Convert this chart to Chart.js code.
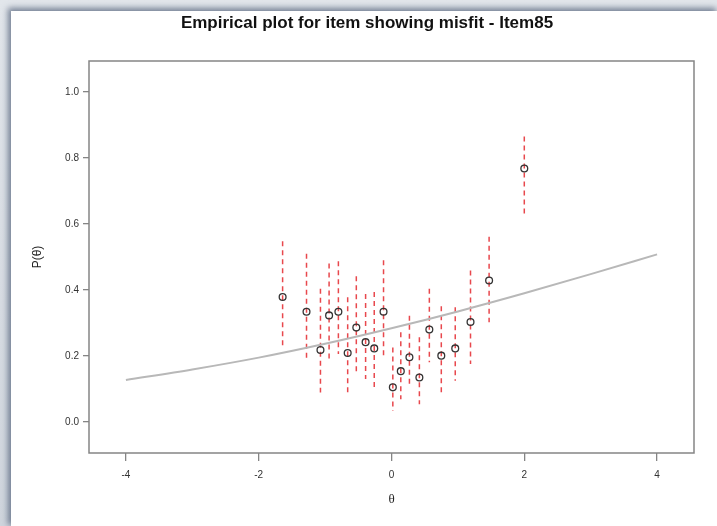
<!DOCTYPE html>
<html>
<head>
<meta charset="utf-8">
<script src="https://cdn.jsdelivr.net/npm/chart.js@4/dist/chart.umd.min.js"></script>
<style>
  html, body { margin: 0; padding: 0; }
  body { width: 717px; height: 526px; overflow: hidden; position: relative; background: linear-gradient(#e2e6eb, #cfd5dd); }
  #frame { position: absolute; left: 11px; top: 11px; width: 706px; height: 515px; background: #fff;
           box-shadow: -2px -2px 6px 1px rgba(80, 95, 120, 0.75); }
</style>
</head>
<body>
<div id="frame"><canvas id="myChart" width="706" height="515"></canvas></div>
<script>
// empirical proportions per ability group, with interval bounds
var theta = [-1.64, -1.28, -1.07, -0.94, -0.80, -0.66, -0.53, -0.39, -0.26, -0.12, 0.02, 0.14, 0.27, 0.42, 0.57, 0.75, 0.96, 1.19, 1.47, 2.00];
var prob  = [0.379, 0.334, 0.218, 0.323, 0.334, 0.209, 0.286, 0.242, 0.223, 0.334, 0.105, 0.154, 0.196, 0.135, 0.280, 0.201, 0.223, 0.303, 0.429, 0.768];
var lower = [0.228, 0.186, 0.089, 0.186, 0.206, 0.084, 0.150, 0.130, 0.099, 0.201, 0.033, 0.069, 0.105, 0.054, 0.181, 0.089, 0.125, 0.176, 0.302, 0.632];
var upper = [0.548, 0.510, 0.404, 0.480, 0.487, 0.378, 0.442, 0.388, 0.394, 0.490, 0.226, 0.272, 0.322, 0.257, 0.404, 0.351, 0.348, 0.459, 0.561, 0.865];

// model curve
var curveTheta = [-4, -3, -2, -1, 0, 1, 2, 3, 4];
var curveP     = [0.127, 0.159, 0.195, 0.237, 0.284, 0.335, 0.390, 0.448, 0.508];

var xTicks = [-4, -2, 0, 2, 4];
var yTicks = [0, 0.2, 0.4, 0.6, 0.8, 1.0];

var errorBars = {
    id: 'errorBars',
    beforeDatasetsDraw: function (chart) {
        var ctx = chart.ctx;
        var xs = chart.scales.x, ys = chart.scales.y;
        ctx.save();
        ctx.strokeStyle = '#e8484d';
        ctx.lineWidth = 1.5;
        ctx.setLineDash([5, 4]);
        for (var i = 0; i < theta.length; i++) {
            var x = xs.getPixelForValue(theta[i]);
            ctx.beginPath();
            ctx.moveTo(x, ys.getPixelForValue(upper[i]));
            ctx.lineTo(x, ys.getPixelForValue(lower[i]));
            ctx.stroke();
        }
        ctx.restore();
    }
};

var plotBox = {
    id: 'plotBox',
    afterDraw: function (chart) {
        var a = chart.chartArea;
        var ctx = chart.ctx;
        ctx.save();
        ctx.strokeStyle = '#858585';
        ctx.lineWidth = 1.5;
        ctx.strokeRect(a.left, a.top, a.right - a.left, a.bottom - a.top);
        ctx.restore();
    }
};

// centre the title on the whole canvas, ignoring the right padding
var titleSpan = {
    id: 'titleSpan',
    afterLayout: function (chart) {
        if (chart.titleBlock) {
            chart.titleBlock.left = 0;
            chart.titleBlock.right = chart.width + 6;
        }
    }
};

var ctx = document.getElementById('myChart');
var myChart = new Chart(ctx, {
    type: 'scatter',
    data: {
        datasets: [{
            type: 'line',
            data: curveTheta.map(function (t, i) { return { x: t, y: curveP[i] }; }),
            borderColor: '#b8b8b8',
            borderWidth: 2,
            pointRadius: 0,
            cubicInterpolationMode: 'monotone',
            fill: false
        }, {
            data: theta.map(function (t, i) { return { x: t, y: prob[i] }; }),
            pointRadius: 3.4,
            pointBackgroundColor: 'rgba(0,0,0,0)',
            pointBorderColor: '#333',
            pointBorderWidth: 1.3
        }]
    },
    options: {
        responsive: false,
        animation: false,
        layout: {
            padding: { left: 0, right: 23, top: 0, bottom: 0 }
        },
        plugins: {
            legend: { display: false },
            tooltip: { enabled: false },
            title: {
                display: true,
                text: 'Empirical plot for item showing misfit - Item85',
                color: '#111',
                font: { family: 'Liberation Sans', size: 17, weight: 'bold' },
                padding: { top: 2, bottom: 27.6 }
            }
        },
        scales: {
            x: {
                type: 'linear',
                min: -4.556,
                max: 4.556,
                afterBuildTicks: function (scale) {
                    scale.ticks = xTicks.map(function (v) { return { value: v }; });
                },
                afterFit: function (scale) { scale.height = 73; },
                border: { display: false },
                grid: { drawOnChartArea: false, color: '#858585', lineWidth: 1.3, tickLength: 8 },
                ticks: {
                    color: '#333',
                    padding: 8,
                    maxRotation: 0,
                    font: { family: 'Liberation Sans', size: 10 }
                },
                title: {
                    display: true,
                    text: 'θ',
                    color: '#222',
                    font: { family: 'Liberation Serif', size: 13 },
                    padding: { bottom: 19 }
                }
            },
            y: {
                min: -0.094,
                max: 1.094,
                afterBuildTicks: function (scale) {
                    scale.ticks = yTicks.map(function (v) { return { value: v }; });
                },
                afterFit: function (scale) { scale.width = 78; },
                border: { display: false },
                grid: { drawOnChartArea: false, color: '#858585', lineWidth: 1.3, tickLength: 6 },
                ticks: {
                    color: '#333',
                    padding: 4,
                    font: { family: 'Liberation Sans', size: 10 },
                    callback: function (v) { return v.toFixed(1); }
                },
                title: {
                    display: true,
                    text: 'P(θ)',
                    color: '#222',
                    font: { family: 'Liberation Sans', size: 12 },
                    padding: { top: 19 }
                }
            }
        }
    },
    plugins: [errorBars, plotBox, titleSpan]
});
</script>
</body>
</html>
